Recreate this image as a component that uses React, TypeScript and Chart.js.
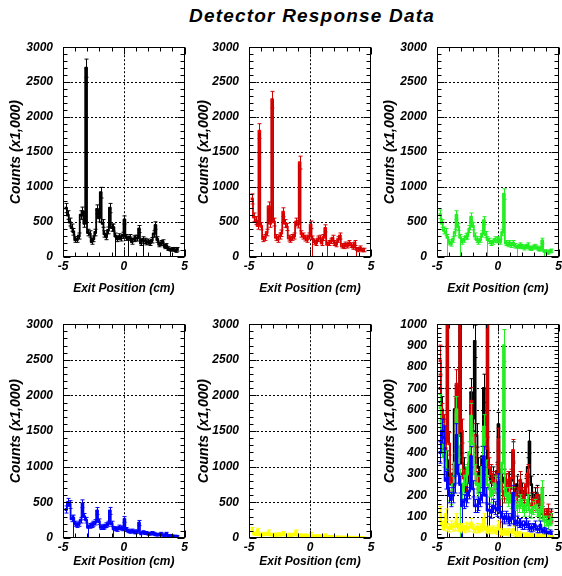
import React, { useEffect, useRef } from 'react';
import { Chart, registerables } from 'chart.js';

Chart.register(...registerables);

const FONT = "'Liberation Sans', Arial, Helvetica, sans-serif";

// Bin centres (cm)
const binCenters = [
  -4.75, -4.6, -4.45, -4.3, -4.15, -4.0, -3.85, -3.7, -3.55, -3.4, -3.25, -3.1, -2.95, -2.8, -2.65, -2.5,
  -2.35, -2.2, -2.05, -1.9, -1.75, -1.6, -1.45, -1.3, -1.15, -1.0, -0.85, -0.7, -0.55, -0.4, -0.25, -0.1,
  0.05, 0.2, 0.35, 0.5, 0.65, 0.8, 0.95, 1.1, 1.25, 1.4, 1.55, 1.7, 1.85, 2.0, 2.15, 2.3,
  2.45, 2.6, 2.75, 2.9, 3.05, 3.2, 3.35, 3.5, 3.65, 3.8, 3.95, 4.1, 4.25, 4.4,
];

const blackCounts = [
  700, 600, 500, 420, 360, 250, 250, 300, 600, 650, 480, 2700, 350, 330, 220, 260,
  350, 680, 560, 920, 480, 330, 290, 380, 700, 420, 420, 300, 260, 290, 270, 310,
  530, 280, 260, 280, 220, 260, 270, 270, 400, 200, 250, 230, 210, 220, 200, 240,
  330, 450, 250, 180, 200, 210, 150, 160, 120, 100, 110, 110, 90, 110,
];
const redCounts = [
  830, 570, 520, 450, 1800, 440, 260, 280, 350, 720, 480, 2250, 500, 280, 250, 300,
  340, 640, 480, 430, 270, 250, 280, 300, 500, 470, 1350, 330, 300, 270, 250, 300,
  460, 260, 220, 200, 260, 270, 200, 280, 410, 180, 200, 230, 270, 200, 180, 250,
  300, 160, 150, 180, 160, 200, 170, 140, 200, 110, 100, 130, 100, 100,
];
const greenCounts = [
  610, 480, 380, 360, 280, 210, 190, 250, 350, 600, 430, 280, 220, 250, 290, 300,
  400, 570, 440, 300, 250, 220, 250, 330, 520, 320, 250, 230, 200, 220, 250, 240,
  250, 220, 350, 900, 200, 180, 200, 170, 200, 160, 140, 150, 170, 150, 130, 150,
  170, 130, 120, 140, 150, 130, 110, 120, 230, 80, 80, 60, 80, 90,
];
const blueCounts = [
  400, 500, 470, 270, 280, 200, 180, 200, 250, 480, 300, 250, 150, 170, 180, 200,
  220, 380, 230, 150, 150, 160, 180, 200, 380, 200, 130, 130, 120, 150, 140, 130,
  260, 120, 100, 90, 100, 90, 80, 90, 210, 60, 80, 70, 70, 60, 60, 70,
  60, 50, 45, 50, 60, 40, 40, 60, 30, 35, 30, 20, 25, 20,
];
const yellowCounts = [
  120, 60, 55, 110, 50, 45, 60, 50, 55, 90, 50, 45, 50, 40, 55, 45,
  50, 70, 45, 40, 50, 40, 45, 50, 90, 40, 35, 40, 35, 40, 35, 30,
  60, 30, 25, 30, 25, 30, 20, 25, 40, 20, 15, 20, 15, 15, 12, 15,
  12, 10, 12, 10, 10, 8, 10, 8, 10, 6, 8, 6, 5, 5,
];

// bins whose lower error bar reaches zero
const blackDips = [27, 34, 42, 57];
const redDips = [33, 41, 57];
const greenDips = [4, 11, 26, 42, 57];
const blueDips = [4, 12, 26, 41];
const yellowDips: number[] = [];

const xTickValues = [-5, 0, 5];
const mainTitle = 'Detector Response Data';
const xTitle = 'Exit Position (cm)';
const yTitle = 'Counts (x1,000)';

type Series = { counts: number[]; dips: number[]; line: string; marker: string };
const SERIES: Series[] = [
  { counts: blackCounts, dips: blackDips, line: '#000000', marker: '#000000' },
  { counts: redCounts, dips: redDips, line: '#d00000', marker: '#ff0000' },
  { counts: greenCounts, dips: greenDips, line: '#22ee22', marker: '#22ee22' },
  { counts: blueCounts, dips: blueDips, line: '#0000ff', marker: '#0000ff' },
  { counts: yellowCounts, dips: yellowDips, line: '#ffff00', marker: '#ffff00' },
];

const rootFrame = {
  id: 'rootFrame',
  beforeDatasetsDraw(chart: any) {
    const { ctx, chartArea: ca, scales } = chart;
    const o = chart.options.plugins.rootFrame;
    ctx.save();
    ctx.strokeStyle = '#000';
    ctx.lineWidth = 1;
    ctx.setLineDash([2, 2]);
    for (let v = o.yStep; v < o.yMax; v += o.yStep) {
      const y = Math.round(scales.y.getPixelForValue(v)) + 0.5;
      ctx.beginPath();
      ctx.moveTo(ca.left, y);
      ctx.lineTo(ca.right, y);
      ctx.stroke();
    }
    const x0 = Math.round(scales.x.getPixelForValue(0)) + 0.5;
    ctx.beginPath();
    ctx.moveTo(x0, ca.top);
    ctx.lineTo(x0, ca.bottom);
    ctx.stroke();
    ctx.restore();
  },
  afterDatasetDraw(chart: any, args: any) {
    const ds = chart.data.datasets[args.index];
    const meta = args.meta;
    const { ctx, chartArea: ca, scales } = chart;
    ctx.save();
    ctx.beginPath();
    ctx.rect(ca.left, ca.top, ca.right - ca.left, ca.bottom - ca.top);
    ctx.clip();
    ctx.strokeStyle = ds.borderColor;
    ctx.lineWidth = 1;
    const dipSet = new Set(ds.dips);
    meta.data.forEach((pt: any, i: number) => {
      const v = ds.data[i].y;
      const e = Math.sqrt(v) * 2.5;
      const dip = dipSet.has(i);
      const yTop = scales.y.getPixelForValue(v + e);
      const yBot = scales.y.getPixelForValue(dip ? 0 : Math.max(0, v - e));
      const x = Math.round(pt.x) + 0.5;
      ctx.beginPath();
      ctx.moveTo(x, yTop);
      ctx.lineTo(x, yBot);
      ctx.moveTo(x - 2, yTop);
      ctx.lineTo(x + 2, yTop);
      if (!dip) {
        ctx.moveTo(x - 2, yBot);
        ctx.lineTo(x + 2, yBot);
      }
      ctx.stroke();
    });
    ctx.restore();
  },
  afterDraw(chart: any) {
    const { ctx, chartArea: ca, scales } = chart;
    const o = chart.options.plugins.rootFrame;
    ctx.save();
    ctx.strokeStyle = '#000';
    ctx.lineWidth = 1;
    const L = Math.round(ca.left) + 0.5;
    const R = Math.round(ca.right) - 0.5;
    const T = Math.round(ca.top) + 0.5;
    const B = Math.round(ca.bottom) - 0.5;
    ctx.strokeRect(L, T, R - L, B - T);
    ctx.beginPath();
    for (let v = 0; v <= o.yMax + 1e-6; v += o.yMinor) {
      const major = Math.abs(v / o.yStep - Math.round(v / o.yStep)) < 1e-6;
      const len = major ? 7 : 4;
      const y = Math.round(scales.y.getPixelForValue(v)) + 0.5;
      ctx.moveTo(L, y);
      ctx.lineTo(L + len, y);
      ctx.moveTo(R, y);
      ctx.lineTo(R - len, y);
    }
    for (let v = -5; v <= 5; v += 1) {
      const major = v % 5 === 0;
      const len = major ? 7 : 4;
      const x = Math.round(scales.x.getPixelForValue(v)) + 0.5;
      ctx.moveTo(x, B);
      ctx.lineTo(x, B - len);
      ctx.moveTo(x, T);
      ctx.lineTo(x, T + len);
    }
    ctx.stroke();
    ctx.restore();
  },
};

type PanelProps = {
  seriesIdx: number[];
  yMax: number;
  yStep: number;
  yMinor: number;
  canvasLeft: number;
  yAxisW: number;
  canvasTop: number;
  canvasHeight: number;
  plotTop: number;
  plotBottom: number;
  xTitleCenter: number;
};

const CW = 190;
const PW = 122;

function Panel(p: PanelProps) {
  const ref = useRef<HTMLCanvasElement>(null);
  useEffect(() => {
    if (!ref.current) return;
    const padTop = p.plotTop - p.canvasTop;
    const xAxisH = p.canvasTop + p.canvasHeight - p.plotBottom;
    const xTitlePb = p.canvasTop + p.canvasHeight - p.xTitleCenter - 7.2;
    const n = p.seriesIdx.length;
    const chart = new Chart(ref.current, {
      type: 'line',
      data: {
        datasets: p.seriesIdx.map((si, k) => ({
          data: binCenters.map((x, i) => ({ x, y: SERIES[si].counts[i] })),
          dips: SERIES[si].dips,
          stepped: 'middle',
          borderColor: SERIES[si].line,
          borderWidth: 1.8,
          pointStyle: 'rect',
          pointRadius: 2,
          pointBackgroundColor: SERIES[si].marker,
          pointBorderColor: SERIES[si].marker,
          pointBorderWidth: 0,
          fill: false,
          order: n - k,
        })) as any,
      },
      options: {
        responsive: false,
        animation: false,
        devicePixelRatio: 1,
        events: [],
        layout: { padding: { left: 0, right: CW - p.yAxisW - PW, top: padTop, bottom: 0 } },
        plugins: {
          legend: { display: false },
          tooltip: { enabled: false },
          rootFrame: { yMax: p.yMax, yStep: p.yStep, yMinor: p.yMinor },
        } as any,
        scales: {
          x: {
            type: 'linear',
            min: -5,
            max: 5,
            afterFit: (s: any) => {
              s.height = xAxisH;
            },
            afterBuildTicks: (s: any) => {
              s.ticks = xTickValues.map((v) => ({ value: v }));
            },
            grid: { display: false, drawTicks: false },
            border: { display: false },
            ticks: {
              padding: 2,
              color: '#000',
              maxRotation: 0,
              autoSkip: false,
              font: { family: FONT, size: 12, weight: 'bold', style: 'italic' },
              callback: (v: any) => String(v),
            },
            title: {
              display: true,
              text: xTitle,
              color: '#000',
              font: { family: FONT, size: 12, weight: 'bold', style: 'italic' },
              padding: { top: 0, bottom: xTitlePb },
            },
          },
          y: {
            type: 'linear',
            min: 0,
            max: p.yMax,
            afterFit: (s: any) => {
              s.width = p.yAxisW;
            },
            grid: { display: false, drawTicks: false },
            border: { display: false },
            ticks: {
              stepSize: p.yStep,
              padding: 10,
              color: '#000',
              autoSkip: false,
              font: { family: FONT, size: 12, weight: 'bold', style: 'italic' },
              callback: (v: any) => String(v),
            },
            title: {
              display: true,
              text: yTitle,
              color: '#000',
              font: { family: FONT, size: 14, weight: 'bold', style: 'italic' },
              padding: { top: 17 - 8.4 - (p.yAxisW - 62.5), bottom: 0 },
            },
          },
        },
      } as any,
      plugins: [rootFrame as any],
    });
    return () => chart.destroy();
  }, []);
  return (
    <canvas
      ref={ref}
      width={CW}
      height={p.canvasHeight}
      style={{ position: 'absolute', left: p.canvasLeft, top: p.canvasTop, width: CW, height: p.canvasHeight }}
    />
  );
}

const cols = [
  { canvasLeft: 0, yAxisW: 63 },
  { canvasLeft: 187, yAxisW: 62 },
  { canvasLeft: 374, yAxisW: 63 },
];
const rows = [
  { canvasTop: 30, canvasHeight: 270, plotTop: 42, plotBottom: 257, xTitleCenter: 289 },
  { canvasTop: 307, canvasHeight: 269, plotTop: 319, plotBottom: 538, xTitleCenter: 562 },
];

const panelDefs = [
  { seriesIdx: [0], yMax: 3000, yStep: 500, yMinor: 100 },
  { seriesIdx: [1], yMax: 3000, yStep: 500, yMinor: 100 },
  { seriesIdx: [2], yMax: 3000, yStep: 500, yMinor: 100 },
  { seriesIdx: [3], yMax: 3000, yStep: 500, yMinor: 100 },
  { seriesIdx: [4], yMax: 3000, yStep: 500, yMinor: 100 },
  { seriesIdx: [0, 1, 2, 3, 4], yMax: 1000, yStep: 100, yMinor: 20 },
];

export default function App() {
  return (
    <div
      style={{
        position: 'absolute',
        left: 0,
        top: 0,
        width: 562,
        height: 576,
        overflow: 'hidden',
        background: '#fff',
      }}
    >
      <div
        style={{
          position: 'absolute',
          left: 112,
          top: 5,
          width: 400,
          textAlign: 'center',
          font: `italic bold 19px ${FONT}`,
          letterSpacing: '1.2px',
          lineHeight: '22px',
          whiteSpace: 'nowrap',
          color: '#000',
        }}
      >
        {mainTitle}
      </div>
      {panelDefs.map((d, i) => {
        const c = cols[i % 3];
        const r = rows[Math.floor(i / 3)];
        return <Panel key={i} {...d} {...c} {...r} />;
      })}
    </div>
  );
}
